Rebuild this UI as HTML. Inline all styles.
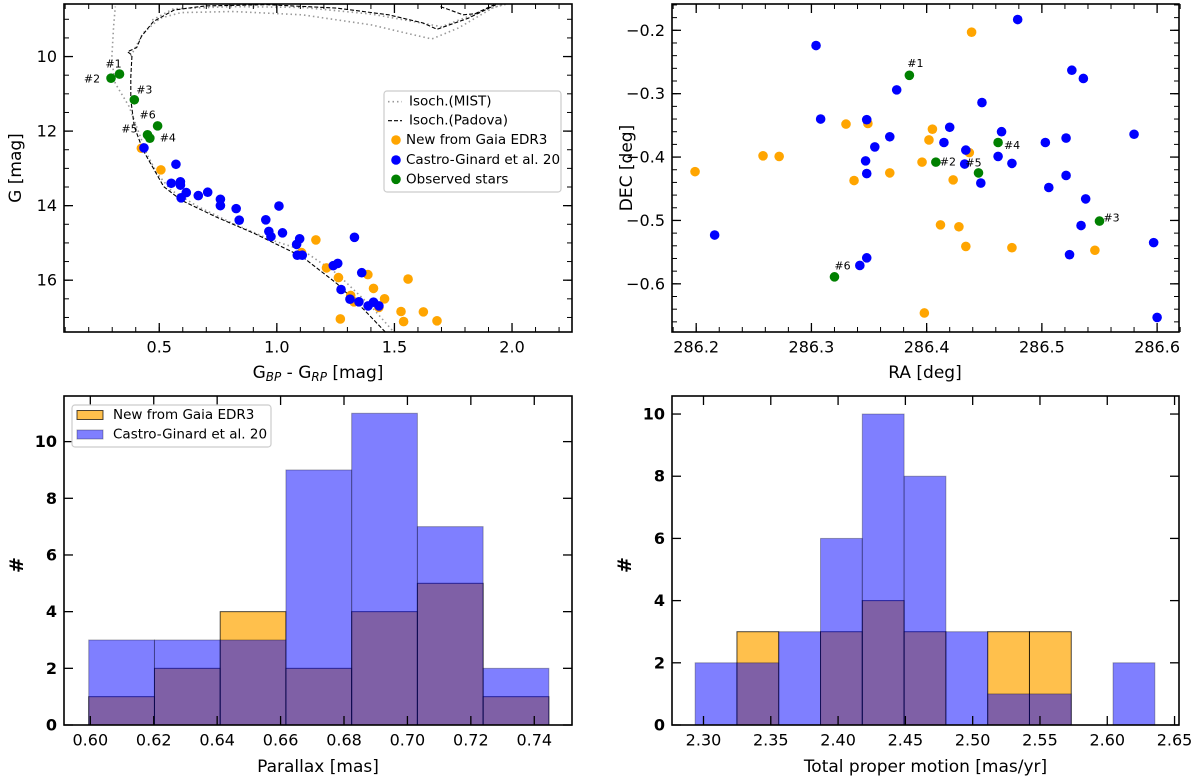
<!DOCTYPE html>
<html><head><meta charset="utf-8">
<style>
html,body{margin:0;padding:0;background:#fff;}
svg{display:block;font-family:"DejaVu Sans","Liberation Sans",sans-serif;}
</style></head>
<body>
<svg id="fig" width="1200" height="782" viewBox="0 0 1200 782" xmlns="http://www.w3.org/2000/svg"></svg>
<script>
// ---------- CMD data ----------
const cmdGreenColor=[0.295,0.331,0.394,0.493,0.450,0.460];
const cmdGreenMag=[10.58,10.47,11.16,11.86,12.10,12.19];
const cmdGreenLabels=["#2","#1","#3","#6","#5","#4"];
const cmdOrangeColor=[0.424,0.507,1.166,1.211,1.262,1.387,1.558,1.411,1.314,1.458,1.328,1.434,1.528,1.623,1.270,1.539,1.681,1.105];
const cmdOrangeMag=[12.46,13.04,14.92,15.67,15.93,15.85,15.97,16.22,16.41,16.50,16.58,16.73,16.84,16.85,17.04,17.11,17.09,15.26];
const cmdBlueColor=[0.435,0.571,0.551,0.590,0.590,0.615,0.593,0.666,0.706,0.760,0.760,0.827,0.840,1.009,0.953,0.966,0.975,1.024,1.097,1.084,1.087,1.108,1.330,1.240,1.259,1.361,1.273,1.311,1.349,1.388,1.411,1.434];
const cmdBlueMag=[12.45,12.89,13.40,13.36,13.45,13.65,13.79,13.73,13.64,13.83,14.00,14.08,14.39,14.01,14.38,14.69,14.83,14.73,14.89,15.04,15.33,15.33,14.85,15.61,15.55,15.80,16.25,16.51,16.58,16.69,16.59,16.69];
const padovaColor=[1.461,1.372,1.255,1.108,0.990,0.902,0.740,0.593,0.519,0.475,0.431,0.394,0.379,0.379,0.384,0.365,0.404,0.424,0.475,0.563,0.696,0.960,1.255,1.475,1.622,1.681,1.814,1.931];
const padovaMag=[17.39,16.80,16.09,15.37,15.01,14.74,14.30,13.85,13.49,13.00,12.51,11.88,11.16,10.54,9.96,9.87,9.76,9.46,9.06,8.75,8.64,8.61,8.70,8.88,9.10,9.27,8.97,8.61];
const padova2Color=[1.696,1.792,1.843,1.924];
const padova2Mag=[8.66,8.88,8.85,8.61];
const mistColor=[1.490,1.402,1.255,1.108,0.975,0.813,0.666,0.549,0.490,0.446,0.372,0.313,0.298,0.306,0.313];
const mistMag=[17.34,16.71,15.82,15.19,14.92,14.48,14.03,13.58,13.13,12.60,11.34,10.72,10.09,9.19,8.66];
const mist2Color=[0.379,0.431,0.504,0.593,0.813,1.108,1.402,1.549,1.659,1.770,1.917,1.976];
const mist2Mag=[9.99,9.37,8.97,8.82,8.79,8.88,9.15,9.37,9.53,9.24,8.70,8.57];
const mist3Color=[0.470,0.560,0.813,1.108,1.402,1.570,1.700,1.900,1.990];
const mist3Mag=[9.02,8.72,8.66,8.68,8.86,9.05,9.20,8.72,8.57];
const cmdXTicks=[0.5,1.0,1.5,2.0];
const cmdYTicks=[10,12,14,16];
// ---------- Sky data ----------
const skyBlueRA=[286.479,286.304,286.526,286.536,286.374,286.448,286.308,286.348,286.420,286.465,286.580,286.368,286.521,286.415,286.503,286.355,286.434,286.462,286.347,286.433,286.474,286.348,286.521,286.447,286.506,286.538,286.534,286.216,286.597,286.524,286.348,286.342,286.600];
const skyBlueDEC=[-0.183,-0.224,-0.263,-0.276,-0.294,-0.314,-0.340,-0.341,-0.353,-0.360,-0.364,-0.368,-0.370,-0.377,-0.377,-0.384,-0.389,-0.399,-0.406,-0.411,-0.410,-0.426,-0.429,-0.441,-0.448,-0.466,-0.508,-0.523,-0.535,-0.554,-0.559,-0.571,-0.653];
const skyOrangeRA=[286.439,286.330,286.349,286.405,286.402,286.258,286.272,286.437,286.396,286.199,286.368,286.337,286.423,286.412,286.428,286.434,286.474,286.546,286.398];
const skyOrangeDEC=[-0.203,-0.348,-0.347,-0.356,-0.373,-0.398,-0.399,-0.393,-0.408,-0.423,-0.425,-0.437,-0.436,-0.507,-0.510,-0.541,-0.543,-0.547,-0.646];
const skyGreenRA=[286.385,286.408,286.550,286.462,286.445,286.320];
const skyGreenDEC=[-0.271,-0.408,-0.501,-0.377,-0.425,-0.589];
const skyGreenLabels=["#1","#2","#3","#4","#5","#6"];
const skyXTicks=[286.2,286.3,286.4,286.5,286.6];
const skyYTicks=[-0.2,-0.3,-0.4,-0.5,-0.6];
// ---------- Parallax hist ----------
const plxStart=0.5995, plxWidth=0.020729;
const plxOrange=[1,2,4,2,4,5,1];
const plxBlue=[3,3,3,9,11,7,2];
const plxXTicks=[0.60,0.62,0.64,0.66,0.68,0.70,0.72,0.74];
const plxYTicks=[0,2,4,6,8,10];
// ---------- PM hist ----------
const pmStart=2.2938, pmWidth=0.03105;
const pmOrange=[0,3,0,3,4,3,0,3,3,0,0];
const pmBlue=[2,2,3,6,10,8,3,1,1,0,2];
const pmXTicks=[2.30,2.35,2.40,2.45,2.50,2.55,2.60,2.65];
const pmYTicks=[0,2,4,6,8,10];

const NS="http://www.w3.org/2000/svg";
const svg=document.getElementById('fig');
function mk(tag,attrs,parent){const e=document.createElementNS(NS,tag);for(const k in attrs)e.setAttribute(k,attrs[k]);(parent||svg).appendChild(e);return e;}
function txt(s,x,y,size,anchor,parent,extra){const t=mk('text',Object.assign({x:x,y:y,'font-size':size,'text-anchor':anchor||'middle','dominant-baseline':'central',fill:'#000'},extra||{}),parent);t.textContent=s;return t;}
function scale(d0,d1,p0,p1){return v=>p0+(v-d0)/(d1-d0)*(p1-p0);}

function axesFrame(g,L,T,R,B,sx,sy,xt,yt,xminor,yminor,fmtx,fmty,ybold){
  const tg=mk('g',{},g);
  
  
  xt.forEach(v=>{const x=sx(v);mk('line',{x1:x,x2:x,y1:B,y2:B-9,stroke:'#000','stroke-width':1.3},tg);mk('line',{x1:x,x2:x,y1:T,y2:T+9,stroke:'#000','stroke-width':1.3},tg);
    const t=txt(fmtx(v),x,B+15,16,'middle',tg);});
  (xminor||[]).forEach(v=>{const x=sx(v);mk('line',{x1:x,x2:x,y1:B,y2:B-5,stroke:'#000','stroke-width':1},tg);mk('line',{x1:x,x2:x,y1:T,y2:T+5,stroke:'#000','stroke-width':1},tg);});
  yt.forEach(v=>{const y=sy(v);mk('line',{x1:L,x2:L+9,y1:y,y2:y,stroke:'#000','stroke-width':1.3},tg);mk('line',{x1:R,x2:R-9,y1:y,y2:y,stroke:'#000','stroke-width':1.3},tg);
    const t=txt(fmty(v),L-7,y,16,'end',tg,ybold?{'font-weight':'bold'}:{});});
  (yminor||[]).forEach(v=>{const y=sy(v);mk('line',{x1:L,x2:L+5,y1:y,y2:y,stroke:'#000','stroke-width':1},tg);mk('line',{x1:R,x2:R-5,y1:y,y2:y,stroke:'#000','stroke-width':1},tg);});
  const f=mk('rect',{x:L,y:T,width:R-L,height:B-T,fill:'none',stroke:'#000','stroke-width':1.6},g);
  
  
}
function range(a,b,s){const r=[];for(let v=a;v<=b+1e-9;v+=s)r.push(+v.toFixed(4));return r;}
function poly(g,xs,ys,sx,sy,attrs,name){const pts=xs.map((x,i)=>sx(x).toFixed(1)+','+sy(ys[i]).toFixed(1)).join(' ');const p=mk('polyline',Object.assign({points:pts,fill:'none'},attrs),g);return p;}
function dots(g,xs,ys,sx,sy,color,name){xs.forEach((x,i)=>{const c=mk('circle',{cx:sx(x),cy:sy(ys[i]),r:4.8,fill:color},g);});}

// ===== Panel 1: CMD =====
(function(){
  const L=64,T=4,R=572,B=332;
  const sx=scale(0.095,2.255,L,R), sy=scale(8.59,17.39,T,B);
  const g=mk('g',{});
  const clip=mk('clipPath',{id:'c1'},g);mk('rect',{x:L,y:T,width:R-L,height:B-T},clip);
  const pg=mk('g',{'clip-path':'url(#c1)'},g);
  const ms={stroke:'#999','stroke-width':1.6,'stroke-dasharray':'1.5,3'};
  poly(pg,mistColor,mistMag,sx,sy,ms,'isochrone-mist');
  poly(pg,mist2Color,mist2Mag,sx,sy,ms,'isochrone-mist-upper');
  poly(pg,mist3Color,mist3Mag,sx,sy,ms,'isochrone-mist-upper-2');
  const ps={stroke:'#000','stroke-width':1.1,'stroke-dasharray':'4,2'};
  poly(pg,padovaColor,padovaMag,sx,sy,ps,'isochrone-padova');
  poly(pg,padova2Color,padova2Mag,sx,sy,ps,'isochrone-padova-upper');
  dots(pg,cmdOrangeColor,cmdOrangeMag,sx,sy,'#FFA500','point-new-edr3');
  dots(pg,cmdBlueColor,cmdBlueMag,sx,sy,'#0000FF','point-castro-ginard');
  dots(pg,cmdGreenColor,cmdGreenMag,sx,sy,'#008000','point-observed');
  const lo={"#1":[-6,-10],"#2":[-19,1],"#3":[10,-10],"#6":[-10,-11],"#5":[-18,-6],"#4":[18,0]};
  cmdGreenLabels.forEach((s,i)=>{const o=lo[s];const t=txt(s,sx(cmdGreenColor[i])+o[0],sy(cmdGreenMag[i])+o[1],11,'middle',g);});
  axesFrame(g,L,T,R,B,sx,sy,cmdXTicks,cmdYTicks,range(0.1,2.2,0.1),range(9,17,0.5),v=>v.toFixed(1),v=>String(v));
  const xl=mk('text',{x:318,y:373,'font-size':17,'text-anchor':'middle','dominant-baseline':'central'},g);
  xl.innerHTML='G<tspan font-size="12" dy="4" font-style="italic">BP</tspan><tspan dy="-4"> - G</tspan><tspan font-size="12" dy="4" font-style="italic">RP</tspan><tspan dy="-4"> [mag]</tspan>';
  
  const yl=txt('G [mag]',0,0,17,'middle',g,{transform:'translate(16,168) rotate(-90)'});
  // legend
  const lg=mk('g',{},g);
  mk('rect',{x:384,y:91,width:177,height:101,rx:3,fill:'#fff',stroke:'#ccc','stroke-width':1.2},lg);
  const ys=[101.7,120.7,140,160,179.3];
  mk('line',{x1:388,x2:402,y1:ys[0],y2:ys[0],stroke:'#999','stroke-width':1.6,'stroke-dasharray':'1.5,3'},lg);
  mk('line',{x1:388,x2:402,y1:ys[1],y2:ys[1],stroke:'#000','stroke-width':1.1,'stroke-dasharray':'4,2'},lg);
  mk('circle',{cx:396,cy:ys[2],r:4.8,fill:'#FFA500'},lg);
  mk('circle',{cx:396,cy:ys[3],r:4.8,fill:'#0000FF'},lg);
  mk('circle',{cx:396,cy:ys[4],r:4.8,fill:'#008000'},lg);
  const labs=['Isoch.(MIST)','Isoch.(Padova)','New from Gaia EDR3','Castro-Ginard et al. 20','Observed stars'];
  labs.forEach((s,i)=>{const t=txt(s,i<2?409:406,ys[i],13.5,'start',lg);});
})();

// ===== Panel 2: Sky =====
(function(){
  const L=672,T=4,R=1179,B=332;
  const sx=scale(286.179,286.619,L,R), sy=scale(-0.1585,-0.676,T,B);
  const g=mk('g',{});
  dots(g,skyOrangeRA,skyOrangeDEC,sx,sy,'#FFA500','point-new-edr3');
  dots(g,skyBlueRA,skyBlueDEC,sx,sy,'#0000FF','point-castro-ginard');
  dots(g,skyGreenRA,skyGreenDEC,sx,sy,'#008000','point-observed');
  const lo=[[6,-12],[12,0],[12,-3],[14,3],[-5,-10],[8,-11]];
  skyGreenLabels.forEach((s,i)=>{const t=txt(s,sx(skyGreenRA[i])+lo[i][0],sy(skyGreenDEC[i])+lo[i][1],11,'middle',g);});
  axesFrame(g,L,T,R,B,sx,sy,skyXTicks,skyYTicks,range(286.18,286.62,0.02),range(-0.66,-0.16,0.02),v=>v.toFixed(1),v=>'\u2212'+Math.abs(v).toFixed(1));
  const xl=txt('RA [deg]',925,373,17,'middle',g);
  const yl=txt('DEC [deg]',0,0,17,'middle',g,{transform:'translate(627,168) rotate(-90)'});
})();

function hist(L,T,R,B,x0,x1,ymax,start,w,orange,blue,xt,yt,fmtx,xlabel,name,legend){
  const sx=scale(x0,x1,L,R), sy=scale(0,ymax,B,T);
  const g=mk('g',{});
  orange.forEach((v,i)=>{if(!v)return;const a=sx(start+i*w),b=sx(start+(i+1)*w);const r=mk('rect',{x:a,y:sy(v),width:b-a,height:B-sy(v),fill:'rgba(255,165,0,0.7)',stroke:'rgba(0,0,0,0.7)','stroke-width':1},g);});
  blue.forEach((v,i)=>{if(!v)return;const a=sx(start+i*w),b=sx(start+(i+1)*w);const r=mk('rect',{x:a,y:sy(v),width:b-a,height:B-sy(v),fill:'rgba(0,0,255,0.5)',stroke:'rgba(0,0,0,0.3)','stroke-width':1},g);});
  axesFrame(g,L,T,R,B,sx,sy,xt,yt,null,null,fmtx,v=>String(v),true);
  const xl=txt(xlabel,(L+R)/2,767,17,'middle',g);
  const yl=txt('#',0,0,19,'middle',g,{transform:'translate('+(L-47)+',565) rotate(-90)','font-weight':'bold'});
  if(legend){
    const lg=mk('g',{},g);
    mk('rect',{x:72,y:405,width:199,height:42,rx:3,fill:'#fff',stroke:'#ccc','stroke-width':1.2},lg);
    mk('rect',{x:77,y:410.5,width:26,height:9,fill:'rgba(255,165,0,0.7)',stroke:'rgba(0,0,0,0.7)'},lg);
    mk('rect',{x:77,y:430,width:26,height:9,fill:'rgba(0,0,255,0.5)',stroke:'rgba(0,0,0,0.3)'},lg);
    let t=txt('New from Gaia EDR3',113,415,13.5,'start',lg);
    t=txt('Castro-Ginard et al. 20',113,434.5,13.5,'start',lg);
  }
}
hist(64,396,572,725,0.5917,0.7519,11.61,plxStart,plxWidth,plxOrange,plxBlue,plxXTicks,plxYTicks,v=>v.toFixed(2),'Parallax [mas]','parallax-histogram',true);
hist(672,396,1179,725,2.2766,2.6533,10.58,pmStart,pmWidth,pmOrange,pmBlue,pmXTicks,pmYTicks,v=>v.toFixed(2),'Total proper motion [mas/yr]','proper-motion-histogram',false);
</script>
</body></html>
